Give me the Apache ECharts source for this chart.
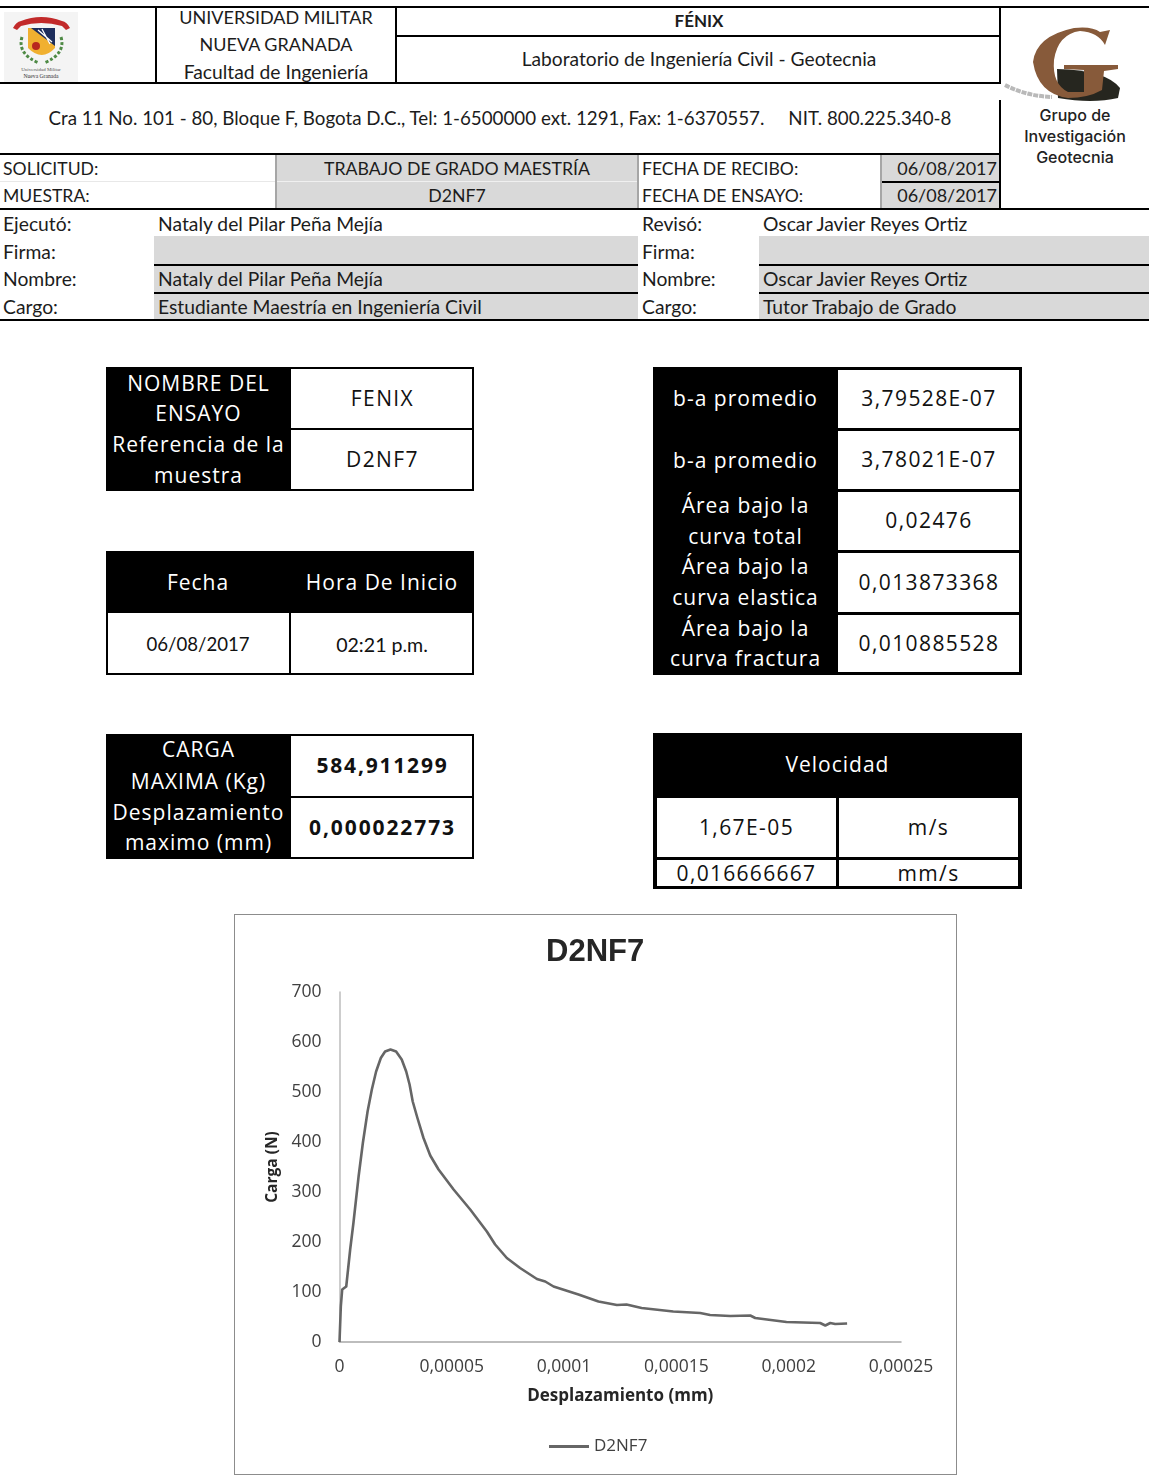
<!DOCTYPE html>
<html><head><meta charset="utf-8">
<style>
html,body{margin:0;padding:0;background:#fff;width:1149px;height:1478px;overflow:hidden}
#page{position:relative;width:1149px;height:1478px;overflow:hidden}
.r{position:absolute}
.t{position:absolute;display:flex;align-items:center;white-space:pre;color:#1c1c1c;line-height:1}
#chart{position:absolute;left:234px;top:914px;width:723px;height:561px}
</style>
<script src="https://cdn.jsdelivr.net/npm/echarts@6/dist/echarts.min.js"></script>
</head><body><div id="page">
<svg class="r" style="left:4px;top:12px" width="74" height="72" viewBox="0 0 74 72">
<rect width="74" height="72" fill="#f4f4f4"/>
<path d="M9 16 Q12 10 17 9 Q37 1 58 9 Q63 10 66 16 L62 18 L58 14 Q37 8 17 14 L13 18Z" fill="#c22a2a"/>
<path d="M24 16 L51 16 L51 36 Q38 50 24 36Z" fill="#f0b030"/>
<path d="M27 16 L51 16 L51 34 Z" fill="#1d2d5c"/>
<path d="M34 18 L48 30 M38 17 L46 32" stroke="#fff" stroke-width="1.3"/>
<circle cx="32" cy="34" r="4" fill="#b8281f"/>
<path d="M18 25 Q13 42 35 51 M57 25 Q62 42 40 51" fill="none" stroke="#4e8a45" stroke-width="3" stroke-dasharray="3 2"/>
<text x="37" y="59" text-anchor="middle" font-family="Liberation Serif" font-size="5" fill="#555">Universidad Militar</text>
<text x="37" y="66" text-anchor="middle" font-family="Liberation Serif" font-size="5.6" fill="#333">Nueva Granada</text>
</svg>
<svg class="r" style="left:1002px;top:22px" width="122" height="80" viewBox="0 0 122 80">
<path d="M3 63 Q24 74 50 75" fill="none" stroke="#b9b9b9" stroke-width="4" stroke-dasharray="5 1"/>
<path d="M55 47 Q104 48 118 66 L116 76 Q90 82 56 76Z" fill="#26261f"/>
<path d="M108 8 L103 23 Q96 10 78 9 Q56 12 52 38 Q50 62 66 70 L82 70 L82 48 L62 47 L62 43 L116 43 L116 47 L102 49 L100 68 Q86 76 66 76 Q36 72 31 40 Q34 14 72 6 Q90 4 98 10Z" fill="#875a3a"/>
</svg>
</div><div id="chart" style="outline:1px solid #8c8c8c;outline-offset:-1px"></div>
<script>
var displacementMm = [0,5.9e-7,1.2e-6,3e-6,4.75e-6,6.2e-6,8.5e-6,1.04e-5,1.25e-5,1.44e-5,1.63e-5,1.84e-5,2.03e-5,2.27e-5,2.52e-5,2.77e-5,2.97e-5,3.12e-5,3.26e-5,3.47e-5,3.74e-5,4.04e-5,4.41e-5,5.08e-5,5.82e-5,6.56e-5,6.93e-5,7.45e-5,8.04e-5,8.79e-5,9.16e-5,9.53e-5,1.064e-4,1.153e-4,1.235e-4,1.278e-4,1.345e-4,1.486e-4,1.606e-4,1.65e-4,1.74e-4,1.829e-4,1.851e-4,1.99e-4,2.14e-4,2.163e-4,2.185e-4,2.207e-4,2.26e-4];
var loadN = [0,71,105,111,185,238,331,398,461,505,541,568,581,585,581,565,541,515,481,448,408,373,345,305,265,221,195,168,148,126,121,111,95,81,74,75,68,61,58,54,52,53,48,40,38,33,38,36,37];
var xTickLabels = ["0","0,00005","0,0001","0,00015","0,0002","0,00025"];
var yTicks = [0,100,200,300,400,500,600,700];
var seriesName = "D2NF7";

var page = document.getElementById('page');
var CAL = 'Lato, "Noto Sans", sans-serif';
var CMC = '"Open Sans", "Noto Sans", sans-serif';
function rect(x,y,w,h,c){var d=document.createElement('div');d.className='r';d.style.cssText='left:'+x+'px;top:'+y+'px;width:'+w+'px;height:'+h+'px;background:'+c;page.appendChild(d);}
function txt(x,y,w,h,s,o){o=o||{};var d=document.createElement('div');d.className='t';d.textContent=s;
 d.style.cssText='left:'+x+'px;top:'+(y-1)+'px;width:'+w+'px;height:'+h+'px;justify-content:'+(o.a||'center')+';font:'+(o.b?'700 ':(o.w?o.w+' ':'400 '))+(o.s||19.3)+'px '+(o.f||CAL)+';color:'+(o.c||'#1c1c1c')+(o.ls?';letter-spacing:'+o.ls+'px':'');page.appendChild(d);}
var K='#000',G='#d9d9d9',GL='#a6a6a6';
rect(276,155,362,53,G);rect(882,155,118,53,G);
rect(154,236,484,28,G);rect(154,265,484,27,G);rect(154,293,484,27,G);
rect(759,236,390,28,G);rect(759,265,390,27,G);rect(759,293,390,27,G);
rect(0,6,1149,2,K);rect(155,7,2,76,K);rect(395,7,2,76,K);rect(0,82,1000,2,K);rect(396,35,604,2,K);
rect(999,7,2,77,K);rect(999,100,2,109,K);
rect(0,153,1000,2,K);rect(0,208,1149,2,K);rect(276,181,362,1,'#f0f0f0');rect(0,181,276,1,'#e8e8e8');rect(882,181,119,2,K);
rect(275,155,2,53,GL);rect(637,155,2,53,GL);rect(880,155,2,53,GL);
rect(154,264,484,2,K);rect(154,292,484,2,K);rect(759,264,390,2,K);rect(759,292,390,2,K);rect(0,319,1149,2,K);
var C={s:17.7},CL={s:17.6,a:'flex-start'};
txt(157,7,238,22,'UNIVERSIDAD MILITAR',{s:18});txt(157,34,238,22,'NUEVA GRANADA',{s:18});txt(157,61,238,22,'Facultad de Ingeniería',{});
txt(397,9,604,24,'FÉNIX',{b:1,s:17});txt(397,47,604,24,'Laboratorio de Ingeniería Civil - Geotecnia',{s:19.2});
txt(0,106,1000,24,'Cra 11 No. 101 - 80, Bloque F, Bogota D.C., Tel: 1-6500000 ext. 1291, Fax: 1-6370557.     NIT. 800.225.340-8',{s:18.75});
var GI={f:'Inter, sans-serif',s:16,c:'#222',w:500};
txt(1001,106,148,20,'Grupo de',GI);txt(1001,127,148,20,'Investigación',GI);txt(1001,148,148,20,'Geotecnia',GI);
var L={a:'flex-start'};
txt(3,157,270,24,'SOLICITUD:',CL);txt(3,184,270,24,'MUESTRA:',CL);
txt(276,157,362,24,'TRABAJO DE GRADO MAESTRÍA',C);txt(276,184,362,24,'D2NF7',C);
txt(642,157,230,24,'FECHA DE RECIBO:',CL);txt(642,184,230,24,'FECHA DE ENSAYO:',CL);
txt(882,157,115,24,'06/08/2017',{a:'flex-end',s:18});txt(882,184,115,24,'06/08/2017',{a:'flex-end',s:18});
var rows=[[212,'Ejecutó:','Nataly del Pilar Peña Mejía','Revisó:','Oscar Javier Reyes Ortiz'],[240,'Firma:','','Firma:',''],[267,'Nombre:','Nataly del Pilar Peña Mejía','Nombre:','Oscar Javier Reyes Ortiz'],[295,'Cargo:','Estudiante Maestría en Ingeniería Civil','Cargo:','Tutor Trabajo de Grado']];
rows.forEach(function(r){txt(3,r[0],140,24,r[1],L);if(r[2])txt(158,r[0],470,24,r[2],L);txt(642,r[0],110,24,r[3],L);if(r[4])txt(763,r[0],380,24,r[4],L);});
var W='#fff',CS=21;
function border(x,y,w,h,b){rect(x,y,w,b,K);rect(x,y+h-b,w,b,K);rect(x,y,b,h,K);rect(x+w-b,y,b,h,K);}
function lab(x,y,w,h,s){txt(x,y,w,h,s,{f:CMC,s:CS,c:W,ls:1});}
function val(x,y,w,h,s,b,f,z,ls){txt(x,y,w,h,s,{f:f||CMC,s:z||CS,b:b,c:'#111',ls:ls===undefined?1.4:ls});}
border(106,367,368,124,2);rect(106,367,185,124,K);rect(291,428,183,2,K);
lab(106,369,185,30,'NOMBRE DEL');lab(106,399,185,30,'ENSAYO');lab(106,430,185,30,'Referencia de la');lab(106,461,185,30,'muestra');
val(291,369,183,59,'FENIX');val(291,430,183,60,'D2NF7');
border(106,551,368,124,2);rect(106,551,368,62,K);rect(289,613,2,62,K);
lab(106,552,184,61,'Fecha');lab(290,552,184,61,'Hora De Inicio');
val(106,615,184,60,'06/08/2017',0,CAL,18.6,0);val(290,615,184,60,'02:21 p.m.',0,CAL,19.6,0);
border(106,734,368,125,2);rect(106,734,185,125,K);rect(291,796,183,2,K);
lab(106,735,185,30,'CARGA');lab(106,766,185,31,'MAXIMA (Kg)');lab(106,797,185,31,'Desplazamiento');lab(106,828,185,30,'maximo (mm)');
val(291,736,183,60,'584,911299',1,0,0,1.8);val(291,798,183,59,'0,000022773',1,0,0,1.9);
border(653,367,369,308,3);rect(653,367,185,308,K);
[428,489,550,612].forEach(function(y){rect(838,y,184,3,K);});
var rVals=[[369,59,'3,79528E-07'],[431,58,'3,78021E-07'],[492,58,'0,02476'],[553,59,'0,013873368'],[615,58,'0,010885528']];
rVals.forEach(function(v){val(838,v[0],182,v[1],v[2]);});
lab(653,369,185,59,'b-a promedio');lab(653,431,185,59,'b-a promedio');
lab(653,491,185,30,'Área bajo la');lab(653,522,185,30,'curva total');lab(653,552,185,30,'Área bajo la');lab(653,583,185,30,'curva elastica');lab(653,614,185,30,'Área bajo la');lab(653,644,185,30,'curva fractura');
rect(653,733,369,65,K);lab(653,733,369,63,'Velocidad');
rect(653,798,4,91,K);rect(1018,798,4,91,K);rect(836,798,3,91,K);rect(653,857,369,3,K);rect(653,886,369,3,K);
val(657,798,179,59,'1,67E-05');val(839,798,179,59,'m/s');val(657,860,179,27,'0,016666667',0,0,0,1.3);val(839,860,179,27,'mm/s');

var chart = echarts.init(document.getElementById('chart'));
var pts = displacementMm.map(function(x,i){return [x,loadN[i]];});
var AF = '"Open Sans", sans-serif';
chart.setOption({
 animation:false,backgroundColor:'transparent',
 title:{text:seriesName,left:312,top:23,padding:0,textStyle:{fontFamily:'"Liberation Sans",Arial,sans-serif',fontWeight:'bold',fontSize:31,color:'#262626'}},
 legend:{data:[seriesName],left:310,top:519,itemWidth:40,itemHeight:3,itemGap:3,icon:'rect',textStyle:{fontFamily:AF,fontSize:17,color:'#404040'}},
 grid:{left:105.5,top:78,width:561.5,height:350},
 xAxis:{type:'value',min:0,max:0.00025,interval:0.00005,splitLine:{show:false},axisTick:{show:false},
  axisLine:{lineStyle:{color:'#a8a8a8',width:1.5}},
  axisLabel:{margin:16,fontFamily:AF,fontSize:17.5,color:'#404040',formatter:function(v){return xTickLabels[Math.round(v/0.00005)];}},
  name:'Desplazamiento (mm)',nameLocation:'middle',nameGap:46,nameTextStyle:{fontFamily:AF,fontWeight:'bold',fontSize:17,color:'#262626'}},
 yAxis:{type:'value',min:yTicks[0],max:yTicks[yTicks.length-1],interval:100,splitLine:{show:false},axisTick:{show:false},
  axisLine:{show:true,lineStyle:{color:'#bdbdbd',width:1.5}},
  axisLabel:{margin:18,fontFamily:AF,fontSize:17.5,color:'#404040',padding:[4,0,0,0]},
  name:'Carga (N)',nameLocation:'middle',nameGap:57,nameTextStyle:{fontFamily:AF,fontWeight:'bold',fontSize:15.5,color:'#262626'}},
 series:[{name:seriesName,type:'line',data:pts,showSymbol:false,symbol:'none',smooth:false,lineStyle:{color:'#666666',width:2.6,join:'round'},itemStyle:{color:'#666666'}}]
});
</script></body></html>
